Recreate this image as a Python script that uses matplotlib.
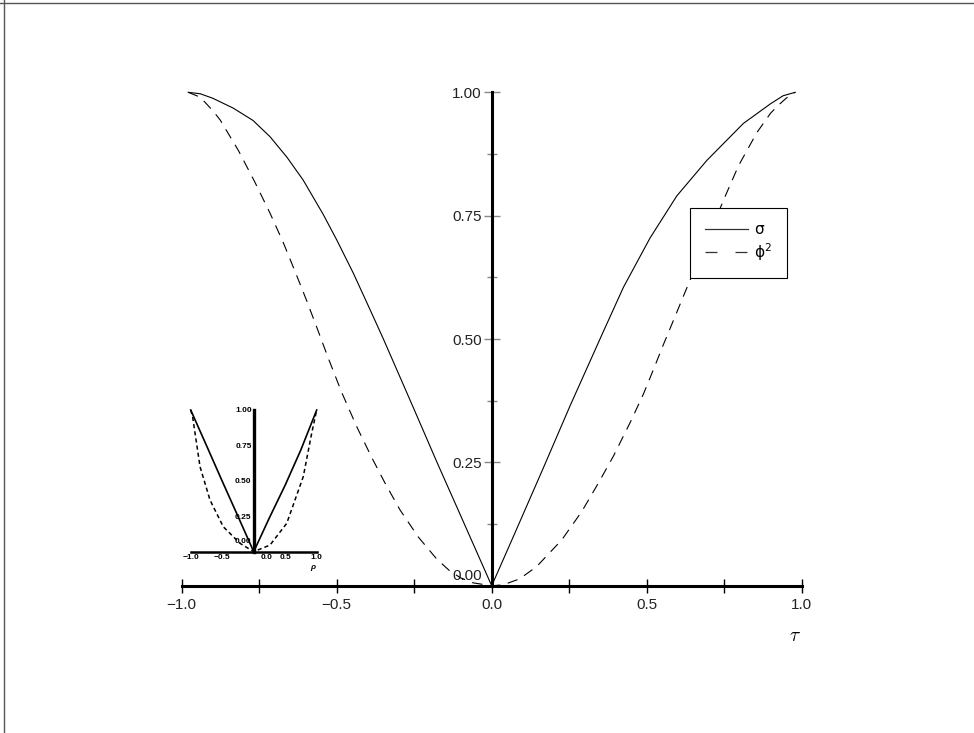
import matplotlib
matplotlib.use("Agg")
import matplotlib.pyplot as plt
import matplotlib.transforms as mtransforms
from matplotlib.lines import Line2D
from matplotlib.ticker import FixedLocator

plt.rcParams["font.family"] = ["Liberation Sans", "DejaVu Sans"]
plt.rcParams["mathtext.fontset"] = "dejavusans"
plt.rcParams["lines.scale_dashes"] = False

# ── 主图数据──
tau_sigma = [-0.979, -0.94, -0.90, -0.834, -0.77, -0.715, -0.66, -0.608, -0.543,
             -0.50, -0.446, -0.40, -0.350, -0.25, -0.177, -0.10, 0.0,
             0.070, 0.166, 0.253, 0.360, 0.425, 0.511, 0.597, 0.694,
             0.812, 0.90, 0.94, 0.979]
sigma = [1.0, 0.997, 0.988, 0.968, 0.943, 0.910, 0.868, 0.822, 0.752,
         0.701, 0.633, 0.570, 0.501, 0.357, 0.251, 0.142, 0.0,
         0.100, 0.238, 0.365, 0.515, 0.605, 0.705, 0.790, 0.862,
         0.937, 0.977, 0.993, 1.0]

tau_phi = [-0.979, -0.94, -0.90, -0.876, -0.817, -0.764, -0.715, -0.672, -0.635,
           -0.597, -0.565, -0.527, -0.484, -0.435, -0.387, -0.344, -0.296, -0.237,
           -0.177, -0.135, -0.10, -0.06, 0.0, 0.037, 0.09, 0.145, 0.226, 0.290, 0.344,
           0.392, 0.446, 0.489, 0.521, 0.554, 0.591, 0.629, 0.69, 0.753, 0.796,
           0.855, 0.90, 0.925, 0.95, 0.979]
phi2 = [1.0, 0.990, 0.963, 0.944, 0.882, 0.818, 0.755, 0.695, 0.638,
        0.578, 0.525, 0.461, 0.392, 0.322, 0.260, 0.208, 0.154, 0.099,
        0.054, 0.030, 0.016, 0.006, 0.0, 0.002, 0.014, 0.039, 0.093, 0.150, 0.208,
        0.262, 0.330, 0.388, 0.437, 0.489, 0.545, 0.603, 0.695, 0.789, 0.851,
        0.918, 0.958, 0.974, 0.988, 1.0]

# ── 小图数据 ──
rho_sigma = [-1.0, -0.75, -0.508, -0.25, 0.0, 0.25, 0.5, 0.75, 1.0]
sigma_rho = [1.0, 0.75, 0.506, 0.25, 0.0, 0.24, 0.47, 0.72, 1.0]
rho_phi = [-1.0, -0.97, -0.852, -0.694, -0.483, -0.217, 0.0, 0.259, 0.524, 0.787, 0.92, 1.0]
phi2_rho = [1.0, 0.953, 0.60, 0.365, 0.176, 0.059, 0.0, 0.047, 0.20, 0.53, 0.835, 1.0]

x_ticks = [-1.0, -0.5, 0.0, 0.5, 1.0]
x_ticklabels = ["\u22121.0", "\u22120.5", "0.0", "0.5", "1.0"]
x_minor = [-0.75, -0.25, 0.25, 0.75]
y_ticks = [0.0, 0.25, 0.5, 0.75, 1.0]
y_ticklabels = ["0.00", "0.25", "0.50", "0.75", "1.00"]
y_minor = [0.125, 0.375, 0.625, 0.875]
legend_labels = [r"$\mathrm{\sigma}$", r"$\mathrm{\phi}^{2}$"]

W, H = 974, 733
fig = plt.figure(figsize=(W / 100, H / 100), dpi=100)


def px_box(x0, x1, y_top, y_bot):
    return [x0 / W, 1 - y_bot / H, (x1 - x0) / W, (y_bot - y_top) / H]


# 外框（只有上边和左边可见）
fig.add_artist(Line2D([0, 1], [1 - 2.5 / H] * 2, transform=fig.transFigure, color="#555", lw=1))
fig.add_artist(Line2D([3.5 / W] * 2, [0, 1], transform=fig.transFigure, color="#555", lw=1))

# ── 主图 ──
ax = fig.add_axes(px_box(181.7, 801.7, 92.3, 585.8))
ax.plot(tau_sigma, sigma, color="black", lw=0.8, clip_on=False)
ax.plot(tau_phi, phi2, color="black", lw=0.8, dashes=(7.5, 5.5), clip_on=False)
ax.set_xlim(-1, 1)
ax.set_ylim(0, 1)

for s in ("top", "right"):
    ax.spines[s].set_visible(False)
ax.spines["left"].set_position(("data", 0))
ax.spines["left"].set_linewidth(2.2)
ax.spines["bottom"].set_linewidth(2.2)

ax.xaxis.set_major_locator(FixedLocator(x_ticks))
ax.xaxis.set_minor_locator(FixedLocator(x_minor))
ax.set_xticklabels(x_ticklabels)
ax.yaxis.set_major_locator(FixedLocator(y_ticks))
ax.yaxis.set_minor_locator(FixedLocator(y_minor))
ax.set_yticklabels(y_ticklabels)

ax.tick_params(axis="x", which="both", direction="inout", length=10, width=1,
               color="black", pad=4, labelsize=11, labelcolor="#222")
ax.tick_params(axis="y", which="major", direction="inout", length=12, width=1,
               color="#888", pad=1, labelsize=11, labelcolor="#222")
ax.tick_params(axis="y", which="minor", direction="inout", length=7, width=1, color="#888")

# 0.00 标签往上挪一点
lab0 = ax.yaxis.get_major_ticks()[0].label1
lab0.set_transform(lab0.get_transform() + mtransforms.ScaledTranslation(0, 8 / 72, fig.dpi_scale_trans))

ax.set_xlabel(r"$\tau$", fontsize=14, math_fontfamily="cm")
ax.xaxis.set_label_coords(0.989, -0.085)

handles = [
    Line2D([], [], color="#333", lw=0.9),
    Line2D([], [], color="#333", lw=0.9, dashes=(8.6, 13)),
]
leg = ax.legend(handles, legend_labels, loc="upper left", bbox_to_anchor=(0.820, 0.766),
                borderaxespad=0, fancybox=False, edgecolor="black", framealpha=1,
                fontsize=11, handlelength=2.8, handletextpad=0.4, borderpad=1.0,
                labelspacing=0.25)
leg.get_frame().set_linewidth(0.8)

# ── 左下角小图 ──
axi = fig.add_axes(px_box(190.7, 316.7, 410, 551.7))
axi.patch.set_visible(False)
axi.plot(rho_sigma, sigma_rho, color="black", lw=1.2, clip_on=False)
axi.plot(rho_phi, phi2_rho, color="black", lw=1.1, dashes=(3, 2.2), clip_on=False)
axi.set_xlim(-1, 1)
axi.set_ylim(0, 1)
for s in ("top", "right"):
    axi.spines[s].set_visible(False)
axi.spines["left"].set_position(("data", 0))
axi.spines["left"].set_linewidth(2.4)
axi.spines["bottom"].set_linewidth(1.8)

axi.xaxis.set_major_locator(FixedLocator(x_ticks))
axi.set_xticklabels(x_ticklabels)
axi.yaxis.set_major_locator(FixedLocator(y_ticks))
axi.set_yticklabels(y_ticklabels)
axi.tick_params(axis="both", length=0, pad=1.5, labelsize=6)
for lab in axi.get_xticklabels() + axi.get_yticklabels():
    lab.set_fontweight("bold")

il0 = axi.yaxis.get_major_ticks()[0].label1
il0.set_transform(il0.get_transform() + mtransforms.ScaledTranslation(0, 8 / 72, fig.dpi_scale_trans))
ix0 = axi.xaxis.get_major_ticks()[2].label1
ix0.set_transform(ix0.get_transform() + mtransforms.ScaledTranslation(9 / 72, 0, fig.dpi_scale_trans))

axi.set_xlabel("\u03c1", fontsize=6, fontweight="bold", fontstyle="italic")
axi.xaxis.set_label_coords(0.97, -0.09)

fig.savefig("out.png", dpi=100, facecolor="white")
